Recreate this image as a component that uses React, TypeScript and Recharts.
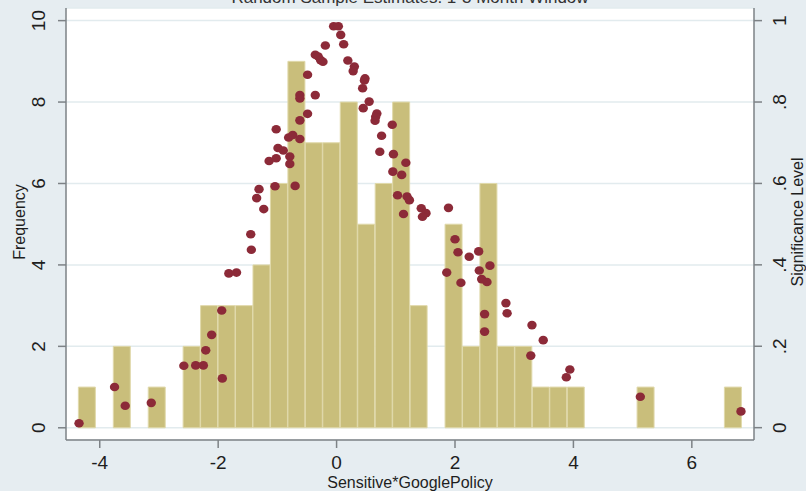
import { ComposedChart, Bar, Scatter, XAxis, YAxis, CartesianGrid, Label } from "recharts";

// histogram bins (centre of each bin) and their frequencies
const binCenters = [
  -4.214, -3.919, -3.624, -3.329, -3.034, -2.74, -2.445, -2.15, -1.855, -1.56,
  -1.265, -0.97, -0.675, -0.381, -0.086, 0.209, 0.504, 0.799, 1.094, 1.389,
  1.684, 1.979, 2.274, 2.568, 2.863, 3.158, 3.453, 3.748, 4.043, 4.338,
  4.633, 4.928, 5.222, 5.517, 5.812, 6.107, 6.402, 6.697,
];
const binCounts = [
  1, 0, 2, 0, 1, 0, 2, 3, 3, 3,
  4, 6, 9, 7, 7, 8, 5, 6, 8, 3,
  0, 5, 2, 6, 2, 2, 1, 1, 1, 0,
  0, 0, 1, 0, 0, 0, 0, 1,
];

// estimates and their significance level (right axis)
const estimates = [
  -4.35, -3.75, -3.57, -3.13, -2.58, -2.38, -2.25, -2.21, -2.11, -1.94,
  -1.93, -1.82, -1.69, -1.44, -1.45, -1.23, -1.35, -1.31, -1.04, -0.7,
  -1.14, -1.02, -0.99, -0.9, -0.79, -0.79, -1.02, -0.81, -0.74, -0.62,
  -0.62, -0.49, -0.62, -0.62, -0.36, -0.49, -0.36, -0.31, -0.27, -0.23,
  -0.19, -0.05, 0.03, 0.07, 0.12, 0.19, 0.3, 0.28, 0.48, 0.47,
  0.44, 0.55, 0.45, 0.68, 0.66, 0.65, 0.76, 0.73, 0.94, 0.96,
  1.17, 0.95, 1.1, 1.03, 1.19, 1.23, 1.13, 1.43, 1.51, 1.45,
  1.89, 2.0, 2.05, 1.86, 2.1, 2.24, 2.4, 2.41, 2.45, 2.54,
  2.59, 2.5, 2.5, 2.86, 2.88, 3.3, 3.49, 3.28, 3.94, 3.88,
  5.13, 6.83,
];
const sigLevels = [
  0.011, 0.1, 0.054, 0.061, 0.152, 0.153, 0.153, 0.19, 0.228, 0.288,
  0.121, 0.379, 0.381, 0.437, 0.475, 0.537, 0.564, 0.586, 0.593, 0.594,
  0.655, 0.662, 0.687, 0.681, 0.666, 0.648, 0.733, 0.713, 0.719, 0.709,
  0.755, 0.771, 0.817, 0.809, 0.817, 0.867, 0.916, 0.912, 0.903, 0.899,
  0.939, 0.986, 0.986, 0.965, 0.942, 0.902, 0.887, 0.876, 0.858, 0.853,
  0.834, 0.801, 0.785, 0.772, 0.764, 0.754, 0.717, 0.678, 0.744, 0.672,
  0.651, 0.629, 0.621, 0.571, 0.568, 0.559, 0.525, 0.539, 0.527, 0.518,
  0.54, 0.463, 0.431, 0.381, 0.356, 0.42, 0.433, 0.386, 0.365, 0.358,
  0.398, 0.279, 0.236, 0.306, 0.281, 0.252, 0.215, 0.177, 0.143, 0.124,
  0.076, 0.04,
];

const xTicks = [-4, -2, 0, 2, 4, 6];
const freqTicks = [0, 2, 4, 6, 8, 10];
const sigTicks = [0, 0.2, 0.4, 0.6, 0.8, 1];
const sigTickLabels = ["0", ".2", ".4", ".6", ".8", "1"];

const bins = binCenters.map((x, i) => ({ x, count: binCounts[i] }));
const points = estimates.map((x, i) => ({ x, sig: sigLevels[i] }));

const FONT = "'Liberation Sans', Arial, sans-serif";
const TEXT = "#1e1e1e";
const AXIS = "#7d8286";
const X_DOMAIN = [-4.57, 7.05];

function XTick({ x, payload }: any) {
  return (
    <text x={x} y={469} textAnchor="middle" fontSize={19} fill={TEXT} fontFamily={FONT}>
      {payload.value}
    </text>
  );
}

function LeftTick({ y, payload }: any) {
  return (
    <text
      transform={`translate(38,${y}) rotate(-90)`}
      textAnchor="middle"
      dominantBaseline="central"
      fontSize={19}
      fill={TEXT}
      fontFamily={FONT}
    >
      {payload.value}
    </text>
  );
}

function RightTick({ y, payload }: any) {
  const idx = sigTicks.findIndex((t) => Math.abs(t - payload.value) < 1e-6);
  return (
    <text
      transform={`translate(779,${y}) rotate(-90)`}
      textAnchor="middle"
      dominantBaseline="central"
      fontSize={19}
      fill={TEXT}
      fontFamily={FONT}
    >
      {idx >= 0 ? sigTickLabels[idx] : payload.value}
    </text>
  );
}

function Dot({ cx, cy }: any) {
  return <ellipse cx={cx} cy={cy} rx={4.7} ry={4.3} fill="#8c2a38" />;
}

export default function App() {
  return (
    <div
      style={{
        position: "absolute",
        left: 0,
        top: 0,
        width: 806,
        height: 491,
        background: "#e6edf1",
        overflow: "hidden",
      }}
    >
      <ComposedChart
        width={806}
        height={491}
        data={bins}
        margin={{ top: 8, right: 0, bottom: 0, left: 0 }}
        barCategoryGap={0}
        barGap={0}
      >
        <CartesianGrid
          xAxisId="bins"
          yAxisId="freq"
          vertical={false}
          fill="#ffffff"
          stroke="#e2ebee"
          strokeWidth={1.5}
        />
        <XAxis
          xAxisId="bins"
          dataKey="x"
          type="number"
          domain={X_DOMAIN}
          allowDataOverflow
          ticks={xTicks}
          height={51}
          stroke={AXIS}
          strokeWidth={1.5}
          tickSize={8}
          tick={<XTick />}
        >
          <Label
            content={() => (
              <text x={410} y={488} textAnchor="middle" fontSize={16} fill={TEXT} fontFamily={FONT}>
                Sensitive*GooglePolicy
              </text>
            )}
          />
        </XAxis>
        <XAxis xAxisId="pts" dataKey="x" type="number" domain={X_DOMAIN} allowDataOverflow hide />
        <YAxis
          yAxisId="freq"
          orientation="left"
          width={66}
          domain={[-0.3, 10.31]}
          allowDataOverflow
          ticks={freqTicks}
          stroke={AXIS}
          strokeWidth={1.5}
          tickSize={8}
          tick={<LeftTick />}
        >
          <Label
            content={() => (
              <text
                transform="translate(19,222) rotate(-90)"
                textAnchor="middle"
                dominantBaseline="central"
                fontSize={16}
                fill={TEXT}
                fontFamily={FONT}
              >
                Frequency
              </text>
            )}
          />
        </YAxis>
        <YAxis
          yAxisId="sig"
          orientation="right"
          dataKey="sig"
          width={52}
          domain={[-0.0303, 1.031]}
          allowDataOverflow
          ticks={sigTicks}
          stroke={AXIS}
          strokeWidth={1.5}
          tickSize={8}
          tick={<RightTick />}
        >
          <Label
            content={() => (
              <text
                transform="translate(797,222) rotate(-90)"
                textAnchor="middle"
                dominantBaseline="central"
                fontSize={16}
                fill={TEXT}
                fontFamily={FONT}
              >
                Significance Level
              </text>
            )}
          />
        </YAxis>
        <Bar
          xAxisId="bins"
          yAxisId="freq"
          dataKey="count"
          fill="#c9be7b"
          stroke="#e0d9ab"
          strokeWidth={1}
          isAnimationActive={false}
        />
        <Scatter
          xAxisId="pts"
          yAxisId="sig"
          data={points}
          dataKey="sig"
          shape={<Dot />}
          isAnimationActive={false}
        />
      </ComposedChart>
      <svg
        width={806}
        height={20}
        style={{ position: "absolute", left: 0, top: 0, pointerEvents: "none" }}
      >
        <text x={410} y={3} textAnchor="middle" fontSize={17} fill="#333" fontFamily={FONT}>
          Random Sample Estimates: 1-3 Month Window
        </text>
      </svg>
    </div>
  );
}
